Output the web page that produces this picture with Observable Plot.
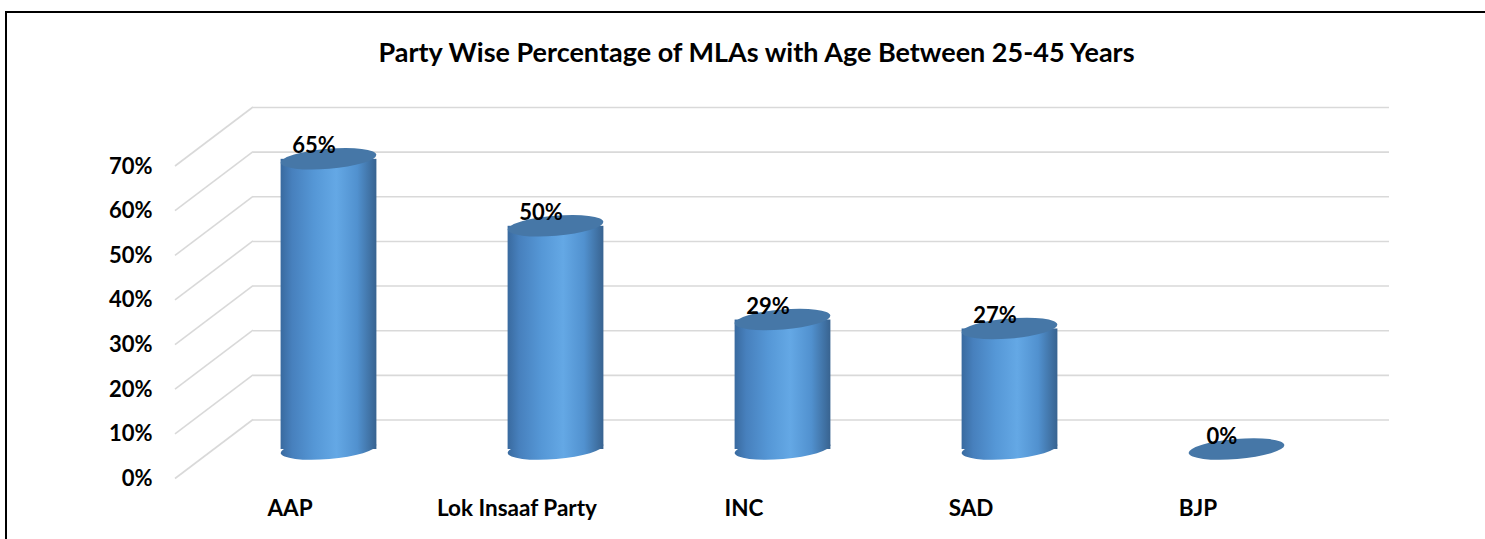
<!DOCTYPE html>
<html>
<head>
<meta charset="utf-8">
<script src="https://cdn.jsdelivr.net/npm/d3@7"></script>
<script src="https://cdn.jsdelivr.net/npm/@observablehq/plot@0.6"></script>
<style>
  html, body { margin: 0; padding: 0; background: #fff; overflow: hidden; width: 1485px; height: 539px; }
  #frame { position: absolute; left: 5px; top: 11px; width: 1600px; height: 700px;
           border-left: 2px solid #000; border-top: 2px solid #000; }
  #title { position: absolute; left: 756.5px; top: 35px; transform: translateX(-50%);
           font-family: Lato, "Liberation Sans", sans-serif; font-weight: bold; font-size: 27px;
           line-height: 34px; white-space: nowrap; color: #000; }
  #chart { position: absolute; left: 0; top: 0; }
</style>
</head>
<body>
<div id="frame"></div>
<div id="chart"></div>
<div id="title">Party Wise Percentage of MLAs with Age Between 25-45 Years</div>
<script>
// ---- data ----
const parties = ["AAP", "Lok Insaaf Party", "INC", "SAD", "BJP"];
const shares = [65, 50, 29, 27, 0];
const yTicks = [0, 10, 20, 30, 40, 50, 60, 70];

const data = parties.map((p, i) => ({party: p, share: shares[i]}));

// ---- style constants ----
const DEPTH_X = 39, DEPTH_Y = 29.5;     // half depth of 3D box (mid plane -> back wall)
const CYL_W = 96, RY = 10, TILT = -4.8;
const gridColor = "#d9d9d9";

const svgNS = "http://www.w3.org/2000/svg";
function el(name, attrs) {
  const e = document.createElementNS(svgNS, name);
  for (const k in attrs) e.setAttribute(k, attrs[k]);
  return e;
}

function defsMark() {
  const g = el("g", {});
  const defs = el("defs", {});
  const lg = el("linearGradient", {id: "cylGrad", x1: "0", y1: "0", x2: "1", y2: "0"});
  [["0%", "#396a9f"], ["12%", "#4780bd"], ["35%", "#5597d6"], ["58%", "#64a8e5"],
   ["80%", "#5191cf"], ["100%", "#386390"]].forEach(([o, c]) =>
    lg.appendChild(el("stop", {offset: o, "stop-color": c})));
  defs.appendChild(lg);
  g.appendChild(defs);
  return g;
}

function bandInfo(scales, dims) {
  return scales.x.bandwidth ? scales.x.bandwidth()
    : (dims.width - dims.marginLeft - dims.marginRight) / parties.length;
}

// diagonal side-wall gridlines (front plane -> back wall)
function diagonals(index, scales, values, dims) {
  const g = el("g", {stroke: gridColor, "stroke-width": 1.6, fill: "none"});
  const x0 = dims.marginLeft;
  yTicks.forEach(t => {
    const y = scales.y(t);
    g.appendChild(el("line", {x1: x0 - DEPTH_X, y1: y + DEPTH_Y, x2: x0 + DEPTH_X, y2: y - DEPTH_Y}));
  });
  return g;
}

function caps(which) {
  return function(index, scales, values, dims) {
    const g = el("g", {});
    const bw = bandInfo(scales, dims);
    data.forEach(d => {
      const cx = scales.x(d.party) + bw / 2;
      if (which === "bottom") {
        if (d.share === 0) return;
        const cy = scales.y(0);
        g.appendChild(el("ellipse", {cx, cy, rx: CYL_W / 2, ry: RY, fill: "url(#cylGrad)",
          transform: `rotate(${TILT} ${cx} ${cy})`}));
      } else {
        const cy = scales.y(d.share);
        g.appendChild(el("ellipse", {cx, cy, rx: CYL_W / 2, ry: RY, fill: "#4677a7",
          transform: `rotate(${TILT} ${cx} ${cy})`}));
      }
    });
    return g;
  };
}

const chart = Plot.plot({
  width: 1485,
  height: 539,
  marginLeft: 214,
  marginRight: 135,
  marginTop: 136.5,
  marginBottom: 90,
  x: {domain: parties, padding: 0, axis: null},
  y: {domain: [0, 70], axis: null},
  style: {fontFamily: "Lato, 'Liberation Sans', sans-serif", background: "transparent", color: "#000"},
  marks: [
    defsMark,
    Plot.ruleY(yTicks, {y: d => d, dx: DEPTH_X, dy: -DEPTH_Y, stroke: gridColor, strokeWidth: 1.6}),
    diagonals,
    caps("bottom"),
    Plot.barY(data, {x: "party", y: "share", fill: "url(#cylGrad)",
      insetLeft: 65.6, insetRight: 65.6}),
    caps("top"),
    Plot.text(data, {x: "party", y: "share", text: d => d.share + "%", dx: -15, dy: -13,
      fontSize: 22, fontWeight: "bold", fill: "#000"}),
    Plot.axisY(yTicks, {tickSize: 0, tickPadding: 62, dy: DEPTH_Y, tickFormat: d => d + "%",
      fontSize: 22, fontWeight: "bold", label: null}),
    Plot.axisX({tickSize: 0, tickPadding: 51, dx: -DEPTH_X, fontSize: 22.5, fontWeight: "bold", label: null})
  ]
});
document.getElementById("chart").appendChild(chart);
</script>
</body>
</html>
